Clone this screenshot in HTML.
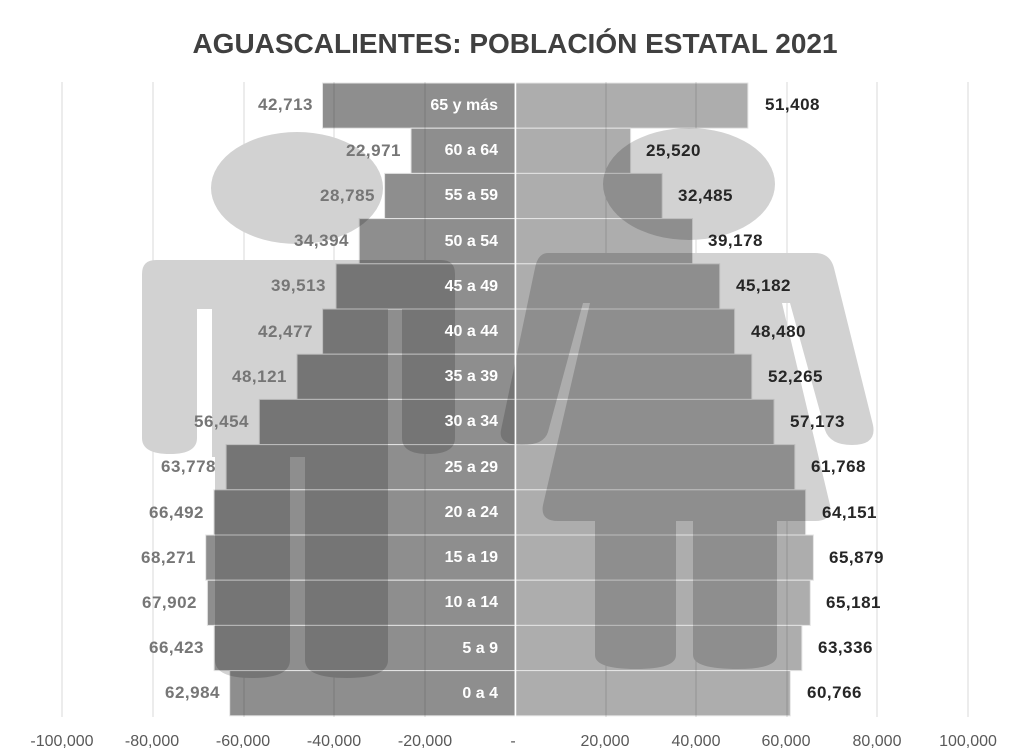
<!DOCTYPE html>
<html><head><meta charset="utf-8"><style>
html,body{margin:0;padding:0;background:#fff;}
svg{display:block;font-family:"Liberation Sans",sans-serif;}
</style></head><body>
<svg width="1024" height="755" viewBox="0 0 1024 755" xmlns="http://www.w3.org/2000/svg">
<rect width="1024" height="755" fill="#fff"/>
<text x="515" y="53" text-anchor="middle" font-size="28" font-weight="bold" fill="#404040">AGUASCALIENTES: POBLACIÓN ESTATAL 2021</text>
<g stroke="#d9d9d9" stroke-width="1">
<line x1="62" y1="82" x2="62" y2="717"/><line x1="153" y1="82" x2="153" y2="717"/><line x1="244" y1="82" x2="244" y2="717"/><line x1="334" y1="82" x2="334" y2="717"/><line x1="425" y1="82" x2="425" y2="717"/><line x1="606" y1="82" x2="606" y2="717"/><line x1="696" y1="82" x2="696" y2="717"/><line x1="787" y1="82" x2="787" y2="717"/><line x1="877" y1="82" x2="877" y2="717"/><line x1="968" y1="82" x2="968" y2="717"/>
</g>
<g fill="#d2d2d2">
<ellipse cx="297" cy="188" rx="86" ry="56"/>
<path d="M156,260 L441,260 Q455,260 455,274 L455,438 Q455,454 428,454 Q402,454 402,438 L402,309 L388,309 L388,660 Q388,678 347,678 Q305,678 305,660 L305,457 L290,457 L290,660 Q290,678 252,678 Q215,678 215,660 L215,457 L212,457 L212,309 L197,309 L197,438 Q197,454 170,454 Q142,454 142,438 L142,274 Q142,260 156,260 Z"/>
<ellipse cx="689" cy="184" rx="86" ry="56"/>
<path d="M548,253 L815,253 Q830,253 834,268 L873,425 Q877,445 852,445 Q830,445 825,430 L790,303 L782,303 L830,505 Q833,521 815,521 L777,521 L777,655 Q777,669 738,669 Q693,669 693,655 L693,521 L676,521 L676,655 Q676,669 636,669 Q595,669 595,655 L595,521 L558,521 Q540,521 543,505 L590,303 L583,303 L548,432 Q544,445 522,445 Q498,445 501,430 L535,268 Q538,253 548,253 Z"/>
</g>
<g style="mix-blend-mode:multiply" stroke="#e4e4e4" stroke-width="1">
<rect x="322.5" y="83" width="192.5" height="45.2" fill="#8e8e8e"/>
<rect x="411" y="128.2" width="104" height="45.2" fill="#8e8e8e"/>
<rect x="384.6" y="173.4" width="130.4" height="45.2" fill="#8e8e8e"/>
<rect x="359.2" y="218.6" width="155.8" height="45.2" fill="#8e8e8e"/>
<rect x="336" y="263.8" width="179" height="45.2" fill="#8e8e8e"/>
<rect x="322.6" y="309" width="192.4" height="45.2" fill="#8e8e8e"/>
<rect x="297" y="354.2" width="218" height="45.2" fill="#8e8e8e"/>
<rect x="259.3" y="399.4" width="255.7" height="45.2" fill="#8e8e8e"/>
<rect x="226.1" y="444.6" width="288.9" height="45.2" fill="#8e8e8e"/>
<rect x="213.8" y="489.8" width="301.2" height="45.2" fill="#8e8e8e"/>
<rect x="205.7" y="535" width="309.3" height="45.2" fill="#8e8e8e"/>
<rect x="207.4" y="580.2" width="307.6" height="45.2" fill="#8e8e8e"/>
<rect x="214.1" y="625.4" width="300.9" height="45.2" fill="#8e8e8e"/>
<rect x="229.7" y="670.6" width="285.3" height="45.2" fill="#8e8e8e"/>
<rect x="515" y="83" width="232.9" height="45.2" fill="#adadad"/>
<rect x="515" y="128.2" width="115.6" height="45.2" fill="#adadad"/>
<rect x="515" y="173.4" width="147.2" height="45.2" fill="#adadad"/>
<rect x="515" y="218.6" width="177.5" height="45.2" fill="#adadad"/>
<rect x="515" y="263.8" width="204.7" height="45.2" fill="#adadad"/>
<rect x="515" y="309" width="219.6" height="45.2" fill="#adadad"/>
<rect x="515" y="354.2" width="236.8" height="45.2" fill="#adadad"/>
<rect x="515" y="399.4" width="259" height="45.2" fill="#adadad"/>
<rect x="515" y="444.6" width="279.8" height="45.2" fill="#adadad"/>
<rect x="515" y="489.8" width="290.6" height="45.2" fill="#adadad"/>
<rect x="515" y="535" width="298.4" height="45.2" fill="#adadad"/>
<rect x="515" y="580.2" width="295.3" height="45.2" fill="#adadad"/>
<rect x="515" y="625.4" width="286.9" height="45.2" fill="#adadad"/>
<rect x="515" y="670.6" width="275.3" height="45.2" fill="#adadad"/>
</g>
<line x1="515.5" y1="82" x2="515.5" y2="717" stroke="#fff" stroke-width="1.5"/>
<g font-size="16" font-weight="bold" fill="#fff" text-anchor="end">
<text x="498" y="110">65 y más</text><text x="498" y="155">60 a 64</text><text x="498" y="200">55 a 59</text><text x="498" y="246">50 a 54</text><text x="498" y="291">45 a 49</text><text x="498" y="336">40 a 44</text><text x="498" y="381">35 a 39</text><text x="498" y="426">30 a 34</text><text x="498" y="472">25 a 29</text><text x="498" y="517">20 a 24</text><text x="498" y="562">15 a 19</text><text x="498" y="607">10 a 14</text><text x="498" y="653">5 a 9</text><text x="498" y="698">0 a 4</text>
</g>
<g font-size="17" font-weight="bold" fill="#767676" text-anchor="end" letter-spacing="0.5">
<text x="313" y="110">42,713</text><text x="401" y="156">22,971</text><text x="375" y="201">28,785</text><text x="349" y="246">34,394</text><text x="326" y="291">39,513</text><text x="313" y="337">42,477</text><text x="287" y="382">48,121</text><text x="249" y="427">56,454</text><text x="216" y="472">63,778</text><text x="204" y="518">66,492</text><text x="196" y="563">68,271</text><text x="197" y="608">67,902</text><text x="204" y="653">66,423</text><text x="220" y="698">62,984</text>
</g>
<g font-size="17" font-weight="bold" fill="#262626" letter-spacing="0.5">
<text x="765" y="110">51,408</text><text x="646" y="156">25,520</text><text x="678" y="201">32,485</text><text x="708" y="246">39,178</text><text x="736" y="291">45,182</text><text x="751" y="337">48,480</text><text x="768" y="382">52,265</text><text x="790" y="427">57,173</text><text x="811" y="472">61,768</text><text x="822" y="518">64,151</text><text x="829" y="563">65,879</text><text x="826" y="608">65,181</text><text x="818" y="653">63,336</text><text x="807" y="698">60,766</text>
</g>
<g font-size="16" fill="#595959" text-anchor="middle">
<text x="62" y="746">-100,000</text><text x="152" y="746">-80,000</text><text x="243" y="746">-60,000</text><text x="334" y="746">-40,000</text><text x="425" y="746">-20,000</text><text x="513" y="746">-</text><text x="605" y="746">20,000</text><text x="696" y="746">40,000</text><text x="786" y="746">60,000</text><text x="877" y="746">80,000</text><text x="968" y="746">100,000</text>
</g>
</svg>
</body></html>
